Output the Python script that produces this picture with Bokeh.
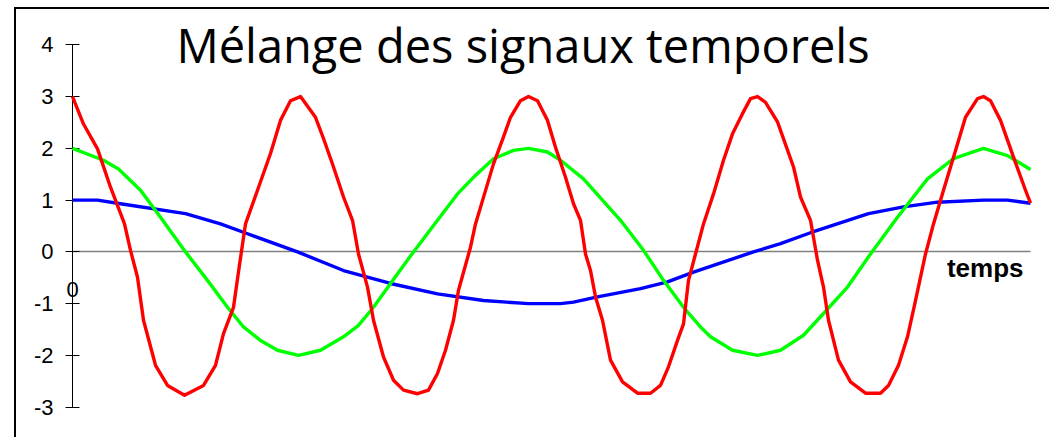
from bokeh.plotting import figure
from bokeh.models import Range1d, Label, FixedTicker
from bokeh.embed import file_html
from bokeh.resources import INLINE

title_text = "Mélange des signaux temporels"
x_label_text = "temps"
y_ticks = [-3, -2, -1, 0, 1, 2, 3, 4]
x_ticks = [0]

# time values (arbitrary units) and amplitudes
blue_t = [0, 25, 48, 113, 148, 175, 225, 271, 318, 365, 411, 456, 488, 501, 525,
          568, 595, 621, 641, 681, 708, 738, 796, 831, 865, 911, 935, 958]
blue_v = [1.0, 1.0, 0.93, 0.74, 0.54, 0.35, 0.0, -0.36, -0.61, -0.81, -0.94, -1.0, -1.0, -0.97, -0.87,
          -0.71, -0.58, -0.39, -0.26, 0.0, 0.16, 0.37, 0.74, 0.87, 0.96, 1.0, 1.0, 0.94]

green_t = [0, 31, 46, 68, 88, 113, 135, 155, 171, 188, 205, 226, 248, 271, 286, 301, 318, 341, 365, 385,
           401, 421, 441, 456, 475, 488, 511, 548, 571, 591, 611, 628, 638, 660, 685, 708, 731, 751, 775,
           798, 825, 855, 881, 911, 935, 958]
green_v = [2.0, 1.77, 1.6, 1.19, 0.67, 0.0, -0.55, -1.07, -1.45, -1.71, -1.9, -2.0, -1.9, -1.64, -1.42,
           -1.07, -0.61, 0.0, 0.61, 1.12, 1.44, 1.8, 1.96, 2.0, 1.93, 1.77, 1.41, 0.61, 0.03, -0.55,
           -1.07, -1.45, -1.64, -1.9, -2.0, -1.9, -1.61, -1.19, -0.68, -0.04, 0.67, 1.41, 1.8, 2.0, 1.86, 1.59]

red_t = [0, 11, 25, 38, 52, 58, 65, 71, 83, 95, 112, 131, 143, 151, 161, 167, 173, 185, 198, 208, 218,
         228, 243, 251, 261, 271, 280, 286, 295, 301, 311, 321, 331, 345, 356, 365, 373, 381, 386, 398, 403,
         410, 421, 431, 438, 448,
         456, 465, 475, 483, 493, 501, 508, 513, 518, 523, 530, 538, 550, 565, 578, 588, 596, 605, 611, 616,
         623, 631, 641, 651, 660, 670, 678,
         685, 693, 705, 721, 728, 738, 745, 751, 756, 766, 778, 793, 808, 816, 826, 835, 843, 853, 861, 871,
         881, 893, 905,
         911, 918, 928, 941, 953, 958]
red_v = [3.0, 2.47, 1.99, 1.25, 0.54, 0.03, -0.49, -1.32, -2.19, -2.58, -2.77, -2.58, -2.19, -1.58, -1.07,
         -0.25, 0.54, 1.19, 1.9, 2.54, 2.92,
         3.0, 2.6, 2.19, 1.64, 1.06, 0.61, -0.04, -0.68, -1.32, -2.03, -2.48, -2.67, -2.74, -2.67, -2.35,
         -1.9, -1.32, -0.74, 0.09, 0.54, 0.99, 1.7, 2.22, 2.6, 2.92,
         3.0, 2.92, 2.54, 2.02, 1.44, 0.93, 0.61, -0.04, -0.36, -0.87, -1.32, -2.09, -2.51, -2.73, -2.73,
         -2.58, -2.22, -1.71, -1.39, -0.55, -0.04, 0.54, 1.12, 1.77, 2.28, 2.67, 2.96,
         3.0, 2.89, 2.51, 1.64, 1.06, 0.61, -0.16, -0.68, -1.32, -2.09, -2.51, -2.73, -2.73, -2.58, -2.19,
         -1.64, -0.94, -0.04, 0.54, 1.19, 1.83, 2.6, 2.96,
         3.0, 2.92, 2.54, 1.83, 1.19, 0.94]

p = figure(width=1035, height=430, output_backend="svg", toolbar_location=None,
           x_range=Range1d(-56, 979), y_range=Range1d(-3.624, 4.682),
           min_border=0, min_border_left=0, min_border_right=0,
           min_border_top=0, min_border_bottom=0)
p.outline_line_color = None
p.grid.visible = False
p.background_fill_color = "white"
p.border_fill_color = "white"
p.styles = {"border-left": "2px solid black", "border-top": "2px solid black",
            "margin-left": "14px", "margin-top": "7px"}

p.line(blue_t, blue_v, line_color="#0000FF", line_width=3.4, line_join="round")
p.line(green_t, green_v, line_color="#00FF00", line_width=3.4, line_join="round")
p.line(red_t, red_v, line_color="#FF0000", line_width=3.4, line_join="round")

ya = p.yaxis[0]
ya.fixed_location = 0
ya.bounds = (y_ticks[0], y_ticks[-1])
ya.ticker = FixedTicker(ticks=y_ticks)
ya.major_label_overrides = {t: str(t) for t in y_ticks}
ya.minor_tick_line_color = None
ya.major_tick_in = 7
ya.major_tick_out = 7
ya.major_tick_line_color = "black"
ya.axis_line_color = "black"
ya.axis_line_width = 1
ya.major_label_text_font = "Liberation Sans"
ya.major_label_text_font_size = "22px"
ya.major_label_text_color = "black"
ya.major_label_standoff = 12
ya.level = "underlay"

xa = p.xaxis[0]
xa.fixed_location = 0
xa.bounds = (red_t[0], red_t[-1])
xa.ticker = FixedTicker(ticks=x_ticks)
xa.major_label_overrides = {t: str(t) for t in x_ticks}
xa.minor_tick_line_color = None
xa.major_tick_line_color = None
xa.major_tick_in = 0
xa.major_tick_out = 0
xa.axis_line_color = "#808080"
xa.axis_line_width = 1.5
xa.major_label_text_font = "Liberation Sans"
xa.major_label_text_font_size = "22px"
xa.major_label_text_color = "black"
xa.major_label_standoff = 30
xa.level = "underlay"

p.add_layout(Label(x=450.5, y=3.987, text=title_text, text_font="Open Sans",
                   text_font_size="47px", text_align="center", text_baseline="alphabetic",
                   text_color="black"))
p.add_layout(Label(x=951, y=-0.307, text=x_label_text, text_font="Liberation Sans",
                   text_font_size="26px", text_font_style="bold", text_align="right",
                   text_baseline="alphabetic", text_color="black"))

open("out.html", "w").write(file_html(p, INLINE))
